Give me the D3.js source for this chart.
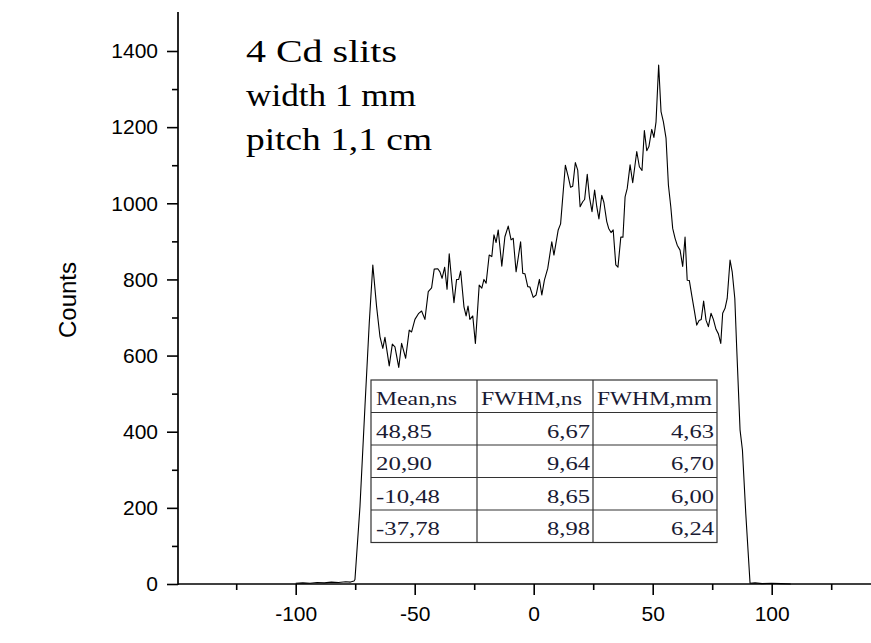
<!DOCTYPE html>
<html><head><meta charset="utf-8">
<script src="https://cdn.jsdelivr.net/npm/d3@7"></script>
<style>body{margin:0;background:#fff}svg{display:block}</style>
</head><body><svg id="c" width="871" height="643"></svg>
<script>
// ---- data ----
const timeNs = [-100,-97,-94,-91,-88,-85,-82,-79,-77,-75.5,-75.1,-73.0,-70.9,-69.1,-67.6,-66.0,-64.6,-63.4,-62.5,-60.7,-59.4,-58.3,-56.7,-55.5,-53.8,-52.3,-51.3,-49.9,-48.3,-47.1,-45.7,-44.3,-42.9,-41.8,-40.3,-39.4,-38.5,-37.4,-36.4,-35.5,-34.5,-33.5,-32.4,-31.5,-30.7,-29.3,-28.4,-27.6,-26.8,-25.6,-24.5,-22.9,-21.8,-20.9,-20.0,-18.7,-17.6,-16.7,-15.8,-14.9,-13.4,-12.1,-10.7,-9.5,-8.6,-7.4,-5.5,-4.6,-3.7,-2.5,-1.6,-0.2,1.0,2.4,3.4,4.5,5.9,7.6,8.5,10.3,11.3,13.3,14.5,15.5,16.4,17.5,18.5,19.5,20.6,21.4,22.5,23.4,24.5,25.6,26.5,27.4,28.6,29.5,30.7,31.5,32.5,33.4,34.5,35.4,36.6,37.5,38.4,39.3,40.5,41.6,43.3,44.4,45.5,46.5,47.5,48.4,49.6,50.5,51.4,52.5,53.5,54.5,55.6,56.6,57.6,58.4,59.4,60.3,61.5,62.6,63.6,64.5,65.4,66.5,67.5,68.5,69.5,70.4,71.4,72.4,73.4,74.5,75.5,76.6,77.6,78.6,79.4,80.4,81.3,82.5,83.4,84.5,85.3,86.7,87.7,89.1,90.9,93,96,100,104,108];
const counts = [2,3,2,4,3,5,4,6,5,8,12,203,466,685,838,728,650,619,648,573,630,623,569,632,593,667,662,695,711,717,695,768,778,827,828,820,803,832,774,867,799,739,800,800,822,728,704,730,695,704,632,785,777,800,790,864,860,917,897,930,835,912,940,904,908,820,899,816,815,781,780,753,759,800,759,798,829,899,864,930,946,1100,1070,1042,1045,1107,1087,991,1004,1010,1076,1017,978,1035,991,959,1021,1002,952,934,923,930,838,832,911,911,1017,1039,1101,1054,1136,1096,1086,1191,1138,1149,1194,1173,1214,1363,1241,1214,1171,1048,991,934,908,890,877,834,911,798,797,755,718,680,692,695,743,693,676,711,695,669,657,632,711,724,750,851,820,750,619,405,352,186,2,3,1,2,1,0];
const xMajorTicks = [-100,-50,0,50,100];
const xMinorTicks = [-125,-75,-25,25,75,125];
const yMajorTicks = [0,200,400,600,800,1000,1200,1400];
const yMinorTicks = [100,300,500,700,900,1100,1300];
const yLabel = "Counts";
const noteLines = ["4 Cd slits","width 1 mm","pitch 1,1 cm"];
const tableHeader = ["Mean,ns","FWHM,ns","FWHM,mm"];
const tableMean = ["48,85","20,90","-10,48","-37,78"];
const tableFwhmNs = ["6,67","9,64","8,65","8,98"];
const tableFwhmMm = ["4,63","6,70","6,00","6,24"];

// ---- chart ----
const svg = d3.select("#c");
const x = d3.scaleLinear().domain([-100,100]).range([295.7,771.7]);
const y = d3.scaleLinear().domain([0,1400]).range([584,51]);
const axisLeftX = 178, axisTopY = 12;
const sans = "Liberation Sans, Arial, sans-serif";

// line
const line = d3.line().x((d,i)=>x(timeNs[i])).y(d=>y(d));
svg.append("path").datum(counts).attr("d",line)
  .attr("fill","none").attr("stroke","#000").attr("stroke-width",1.1).attr("stroke-linejoin","round");

// x axis
const xAx = svg.append("g").attr("transform","translate(0,584)");
const xMaj = xAx.append("g").call(d3.axisBottom(x).tickValues(xMajorTicks).tickSize(11).tickSizeOuter(0)
  .tickFormat(d=>d<0?"-"+Math.abs(d):String(d)));
xAx.append("g").call(d3.axisBottom(x).tickValues(xMinorTicks).tickSize(6).tickSizeOuter(0).tickFormat(()=>""));
xAx.selectAll(".domain").remove();
xAx.append("line").attr("x1",axisLeftX).attr("x2",871).attr("stroke","#000").attr("stroke-width",1.7);
xAx.selectAll(".tick line").attr("stroke","#000").attr("stroke-width",1.6);
xMaj.selectAll(".tick text").attr("font-family",sans).attr("font-size",21).attr("fill","#000").attr("y",22);

// y axis
const yAx = svg.append("g").attr("transform",`translate(${axisLeftX},0)`);
const yMaj = yAx.append("g").call(d3.axisLeft(y).tickValues(yMajorTicks).tickSize(11).tickSizeOuter(0).tickFormat(d3.format("d")));
yAx.append("g").call(d3.axisLeft(y).tickValues(yMinorTicks).tickSize(6).tickSizeOuter(0).tickFormat(()=>""));
yAx.selectAll(".domain").remove();
yAx.append("line").attr("y1",axisTopY).attr("y2",585).attr("stroke","#000").attr("stroke-width",1.7);
yAx.selectAll(".tick line").attr("stroke","#000").attr("stroke-width",1.6);
yMaj.selectAll(".tick text").attr("font-family",sans).attr("font-size",21).attr("fill","#000").attr("x",-20);

// y label
svg.append("text").attr("transform","translate(76,300) rotate(-90)").attr("text-anchor","middle")
  .attr("font-family",sans).attr("font-size",24).text(yLabel);

// annotation
const noteW = [151,170,186];
noteLines.forEach((t,i)=>{
  svg.append("text").attr("x",246).attr("y",62+i*44)
    .attr("font-family","Liberation Serif, Times New Roman, serif").attr("font-size",32)
    .attr("textLength",noteW[i]).attr("lengthAdjust","spacingAndGlyphs").text(t);
});

// table
const tb = svg.append("g");
const colX = [371,477,593,717];
const rowY = [380,412.5,445,477.5,510,542.5];
tb.append("rect").attr("x",colX[0]).attr("y",rowY[0]).attr("width",colX[3]-colX[0]).attr("height",rowY[5]-rowY[0])
  .attr("fill","#fff").attr("stroke","#333").attr("stroke-width",1.2);
rowY.slice(1,5).forEach(ry=>tb.append("line").attr("x1",colX[0]).attr("x2",colX[3]).attr("y1",ry).attr("y2",ry).attr("stroke","#333").attr("stroke-width",1.2));
colX.slice(1,3).forEach(cx=>tb.append("line").attr("x1",cx).attr("x2",cx).attr("y1",rowY[0]).attr("y2",rowY[5]).attr("stroke","#333").attr("stroke-width",1.2));
const tf = "Liberation Serif, Times New Roman, serif";
const hdrW = [81,101,115];
tableHeader.forEach((t,i)=>{
  tb.append("text").attr("x",colX[i]+ (i===0?5:4)).attr("y",rowY[0]+25).attr("font-family",tf).attr("font-size",19)
    .attr("fill","#1a1a33").attr("textLength",hdrW[i]).attr("lengthAdjust","spacingAndGlyphs").text(t);
});
tableMean.forEach((t,r)=>{
  tb.append("text").attr("x",colX[0]+5).attr("y",rowY[r+1]+25).attr("font-family",tf).attr("font-size",19)
    .attr("fill","#1a1a33").attr("textLength",t.length===5?56:64).attr("lengthAdjust","spacingAndGlyphs").text(t);
});
[tableFwhmNs,tableFwhmMm].forEach((col,ci)=>{
  col.forEach((t,r)=>{
    tb.append("text").attr("x",colX[ci+2]-3).attr("y",rowY[r+1]+25).attr("text-anchor","end").attr("font-family",tf).attr("font-size",19)
      .attr("fill","#1a1a33").attr("textLength",43).attr("lengthAdjust","spacingAndGlyphs").text(t);
  });
});
</script></body></html>
